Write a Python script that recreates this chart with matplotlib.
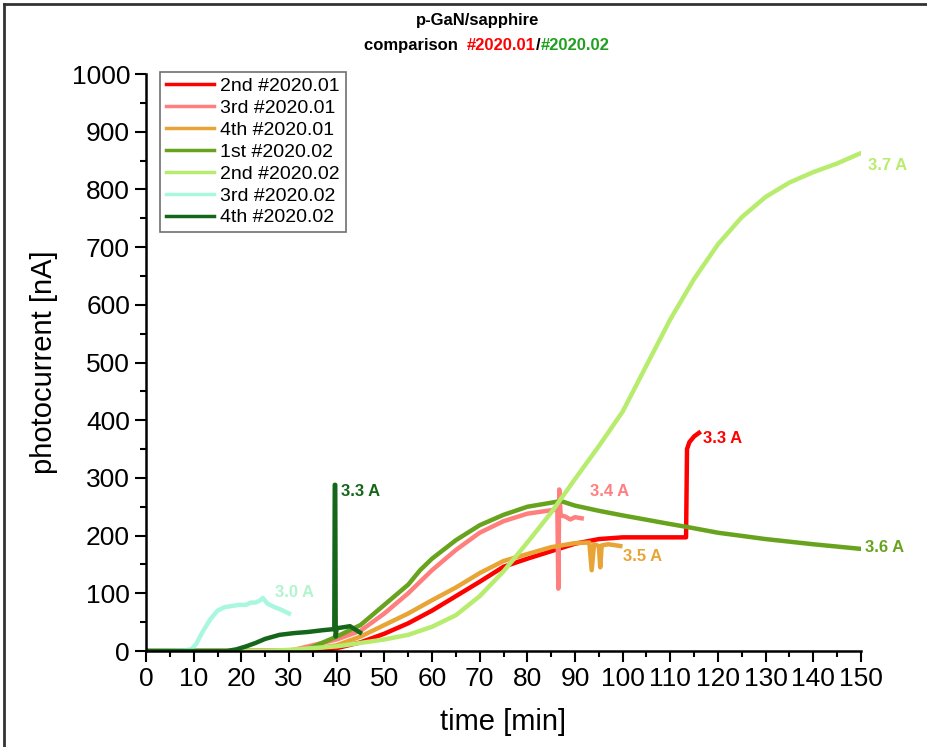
import matplotlib
matplotlib.use("Agg")
import matplotlib.pyplot as plt
from matplotlib.lines import Line2D
from matplotlib.ticker import MultipleLocator

plt.rcParams['font.family'] = ['Liberation Sans', 'DejaVu Sans']

# 2nd #2020.01
t_r2 = [0, 35, 40, 45, 50, 55, 57.5, 60, 65, 70, 75, 80, 85, 90, 95, 100, 113.3, 113.5, 114, 115, 116]
v_r2 = [0, 0, 5, 15, 30, 48, 59, 70, 95, 120, 146, 160, 173, 186, 194, 197, 197, 350, 362, 372, 378]
# 3rd #2020.01
t_r3 = [0, 30, 40, 45, 50, 55, 60, 65, 70, 75, 80, 85, 86.3, 86.5, 86.7, 87, 88, 89, 90, 91.4]
v_r3 = [0, 0, 20, 35, 65, 100, 140, 175, 205, 225, 238, 244, 245, 108, 280, 235, 233, 228, 232, 230]
# 4th #2020.01
t_r4 = [0, 32, 40, 45, 50, 55, 60, 65, 70, 75, 80, 85, 90, 93, 93.5, 94, 95, 95.3, 95.6, 97, 99.5]
v_r4 = [0, 0, 10, 25, 45, 65, 88, 110, 135, 156, 168, 180, 187, 188, 140, 185, 182, 145, 183, 185, 182]
# 1st #2020.02
t_g1 = [0, 33, 40, 45, 50, 55, 57.5, 60, 65, 70, 75, 80, 85, 87, 90, 95, 100, 110, 113.5, 120, 130, 140, 150]
v_g1 = [0, 0, 25, 45, 80, 115, 140, 160, 192, 218, 236, 250, 257, 260, 252, 243, 235, 220, 215, 205, 194, 185, 177]
# 2nd #2020.02
t_g2 = [0, 25, 30, 40, 50, 55, 60, 65, 70, 75, 80, 85, 90, 95, 100, 105, 110, 115, 120, 125, 130, 135, 140, 145, 149.7]
v_g2 = [0, 0, 2, 8, 20, 28, 42, 62, 95, 138, 188, 240, 298, 355, 415, 495, 575, 645, 705, 752, 787, 812, 830, 845, 862]
# 3rd #2020.02
t_g3 = [0, 8, 9.5, 10.5, 12, 13.5, 15, 16.5, 18, 19.5, 21, 22, 23, 24, 24.5, 25.5, 27, 28.5, 30]
v_g3 = [0, 1, 3, 12, 35, 55, 70, 76, 78, 80, 80, 84, 84, 88, 92, 82, 76, 71, 65]
# 4th #2020.02
t_g4 = [0, 17, 19, 21, 23, 25, 28, 31, 34, 37, 39.5, 39.6, 39.7, 39.8, 40.0, 40.5, 42.8, 44.9]
v_g4 = [0, 0, 3, 8, 14, 21, 28, 31, 33, 36, 38, 288, 288, 25, 40, 40, 43, 32]

series = [
    ("2nd #2020.01", t_r2, v_r2, "#ff0000"),
    ("3rd #2020.01", t_r3, v_r3, "#ff7f7f"),
    ("4th #2020.01", t_r4, v_r4, "#e8a535"),
    ("1st #2020.02", t_g1, v_g1, "#68a31e"),
    ("2nd #2020.02", t_g2, v_g2, "#b8ec6e"),
    ("3rd #2020.02", t_g3, v_g3, "#aaf7e0"),
    ("4th #2020.02", t_g4, v_g4, "#15661a"),
]

end_labels = [
    (27.0, 102, "3.0 A", "#b0f5cc"),
    (40.9, 276, "3.3 A", "#15661a"),
    (93.1, 276, "3.4 A", "#ff7f7f"),
    (100.0, 163, "3.5 A", "#e8a535"),
    (116.8, 369, "3.3 A", "#ff0000"),
    (150.8, 180, "3.6 A", "#68a31e"),
    (151.4, 842, "3.7 A", "#b8ec6e"),
]

fig = plt.figure(figsize=(9.27, 7.47), dpi=100)
ax = fig.add_axes([0.1575, 0.1285, 0.7713, 0.7724])

for name, t, v, c in series:
    ax.plot(t, v, color=c, lw=3.2, label=name)

for x, y, s, c in end_labels:
    ax.text(x, y, s, color=c, fontsize=12, fontweight='bold', ha='left', va='center')

ax.set_xlim(0, 150)
ax.set_ylim(0, 1000)
ax.xaxis.set_major_locator(MultipleLocator(10))
ax.xaxis.set_minor_locator(MultipleLocator(5))
ax.yaxis.set_major_locator(MultipleLocator(100))
ax.yaxis.set_minor_locator(MultipleLocator(50))
ax.tick_params(which='major', length=8, width=1.5, labelsize=19, direction='out')
ax.tick_params(which='minor', length=4, width=1.5, direction='out')
for sp in ['top', 'right']:
    ax.spines[sp].set_visible(False)
for sp in ['left', 'bottom']:
    ax.spines[sp].set_linewidth(1.8)

ax.set_xlabel("time [min]", fontsize=21, labelpad=12)
ax.set_ylabel("photocurrent [nA]", fontsize=21, labelpad=10)

leg = ax.legend(loc='upper left', bbox_to_anchor=(0.0196, 1.004), borderaxespad=0,
                fontsize=14, handlelength=2.5, handletextpad=0.3, labelspacing=0.22,
                fancybox=False, framealpha=1, edgecolor='#707070', borderpad=0.3)
leg.get_frame().set_linewidth(1.2)
for h in leg.get_lines():
    h.set_linewidth(2.5)

# title with coloured sample numbers
fig.text(0.515, 0.972, "p-GaN/sapphire", ha='center', va='center', fontsize=12, fontweight='bold')
parts = [("comparison  ", "black"), ("#2020.01", "#ff0000"), ("/", "black"), ("#2020.02", "#1fa01f")]
fig.canvas.draw()
r = fig.canvas.get_renderer()
texts = []
for s, c in parts:
    texts.append(fig.text(0, 0.939, s, ha='left', va='center', fontsize=12, fontweight='bold', color=c))
widths = [tx.get_window_extent(r).width / fig.bbox.width for tx in texts]
x0 = 0.525 - sum(widths) / 2
for tx, w in zip(texts, widths):
    tx.set_x(x0)
    x0 += w

# frame around the figure (left and top edges visible)
fig.add_artist(Line2D([0.004, 0.004], [0, 0.995], transform=fig.transFigure, color='#333333', lw=2))
fig.add_artist(Line2D([0.004, 1], [0.995, 0.995], transform=fig.transFigure, color='#333333', lw=2))

fig.savefig("out.png", dpi=100)
